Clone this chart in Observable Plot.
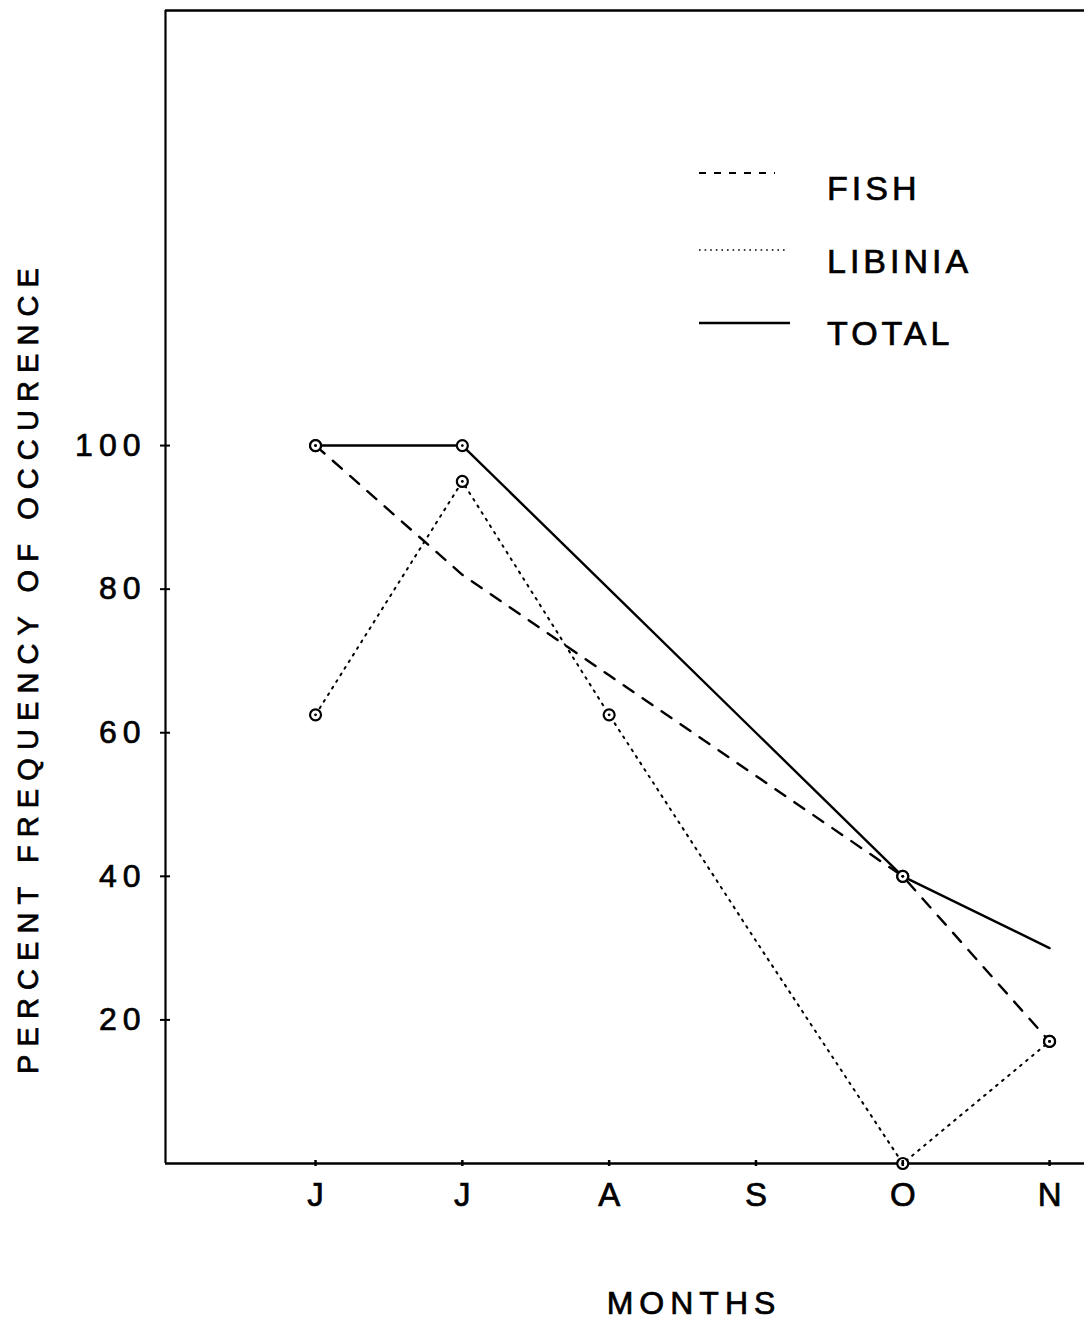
<!DOCTYPE html>
<html><head><meta charset="utf-8">
<script src="https://cdn.jsdelivr.net/npm/d3@7"></script>
<script src="https://cdn.jsdelivr.net/npm/@observablehq/plot@0.6"></script>
<style>
body{margin:0;background:#fff;}
#wrap{position:relative;width:1084px;height:1328px;font-family:"Liberation Sans",Arial,Helvetica,sans-serif;}
#wrap svg{font-family:"Liberation Sans",Arial,Helvetica,sans-serif;}
#wrap svg text{stroke:#000;stroke-width:0.7px;}
#legend{position:absolute;left:0;top:0;pointer-events:none;}
[aria-label="x-axis tick label"] text{letter-spacing:0;}
</style></head><body><div id="wrap"></div>
<script>
// ---- data ----
const months = ["J", "J", "A", "S", "O", "N"];
const fish = [100, 82, 68, 54, 40, 17];
const libinia = [62.5, 95, 62.5, 31, 0, 17];
const total = [100, 100, 80, 60, 40, 30];
const fishMarked = [true, false, false, false, true, true];
const libiniaMarked = [true, true, true, false, true, true];
const totalMarked = [true, true, false, false, true, false];
const yTicks = [20, 40, 60, 80, 100];
const yLabel = "PERCENT FREQUENCY OF OCCURENCE";
const xLabel = "MONTHS";
const legendItems = ["FISH", "LIBINIA", "TOTAL"];

// ---- build table ----
function rows(name, vals, marked) {
  return vals.map((v, i) => ({series: name, i, value: v, marked: marked[i]}));
}
const data = [
  ...rows("FISH", fish, fishMarked),
  ...rows("LIBINIA", libinia, libiniaMarked),
  ...rows("TOTAL", total, totalMarked)
];
const marked = data.filter(d => d.marked);
const xMin = -1.022, xMax = 5.238, yMax = 160.6;

const chart = Plot.plot({
  width: 1084,
  height: 1328,
  marginLeft: 165,
  marginRight: 0,
  marginTop: 10,
  marginBottom: 165,
  style: {fontFamily: '"Liberation Sans", Arial, Helvetica, sans-serif', color: "#000", background: "#fff", letterSpacing: "6px"},
  x: {type: "linear", domain: [xMin, xMax], label: null},
  y: {type: "linear", domain: [0, yMax], label: null},
  marks: [
    // frame lines
    Plot.ruleY([0], {stroke: "#000", strokeWidth: 2.5}),
    Plot.ruleY([yMax], {stroke: "#000", strokeWidth: 2.5}),
    Plot.ruleX([xMin], {stroke: "#000", strokeWidth: 2.2}),
    // series
    Plot.line(data.filter(d => d.series === "TOTAL"), {x: "i", y: "value", stroke: "#000", strokeWidth: 2.4}),
    Plot.line(data.filter(d => d.series === "FISH"), {x: "i", y: "value", stroke: "#000", strokeWidth: 2.4, strokeDasharray: "12,11"}),
    Plot.line(data.filter(d => d.series === "LIBINIA"), {x: "i", y: "value", stroke: "#000", strokeWidth: 2, strokeDasharray: "1.8,6"}),
    Plot.dot(marked, {x: "i", y: "value", r: 5.5, fill: "#fff", stroke: "#000", strokeWidth: 2.2}),
    Plot.dot(marked, {x: "i", y: "value", r: 1.4, fill: "#000", stroke: null}),
    // axes: tick marks crossing the axis
    Plot.axisY({ticks: yTicks, tickSize: 10, dx: 5, tickFormat: () => "", strokeWidth: 2, label: null}),
    Plot.axisY({ticks: yTicks, tickSize: 0, tickPadding: 19, fontSize: 32, label: null}),
    Plot.axisX({ticks: d3.range(months.length), tickSize: 6, dy: -3, tickFormat: () => "", strokeWidth: 2.5, label: null}),
    Plot.axisX({ticks: d3.range(months.length), tickSize: 0, tickPadding: 19, tickFormat: i => months[i], fontSize: 33, label: null}),
    // axis titles
    Plot.text([yLabel], {frameAnchor: "left", rotate: -90, dx: -137, dy: 80, fontSize: 29, textAnchor: "middle", lineAnchor: "middle"}),
    Plot.text([xLabel], {frameAnchor: "bottom", dx: 69, dy: 140, fontSize: 32, textAnchor: "middle", lineAnchor: "middle"})
  ]
});
// wider letter spacing for the y title
chart.querySelectorAll("text").forEach(t => {
  if (t.textContent === yLabel) t.style.letterSpacing = "8.1px";
});
const wrap = document.getElementById("wrap");
wrap.appendChild(chart);

// ---- legend overlay (inside plot area, top right) ----
const ns = "http://www.w3.org/2000/svg";
const leg = document.createElementNS(ns, "svg");
leg.setAttribute("id", "legend");
leg.setAttribute("width", 1084);
leg.setAttribute("height", 400);
const styles = [
  {dash: "7,8", w: 2.2, x2: 775},
  {dash: "1.6,4", w: 1.6, x2: 785},
  {dash: null, w: 2.6, x2: 790}
];
const lineYs = [173, 250, 323];
const textYs = [200, 273, 345];
legendItems.forEach((name, k) => {
  const l = document.createElementNS(ns, "line");
  l.setAttribute("x1", 699); l.setAttribute("x2", styles[k].x2);
  l.setAttribute("y1", lineYs[k]); l.setAttribute("y2", lineYs[k]);
  l.setAttribute("stroke", "#000"); l.setAttribute("stroke-width", styles[k].w);
  if (styles[k].dash) l.setAttribute("stroke-dasharray", styles[k].dash);
  leg.appendChild(l);
  const t = document.createElementNS(ns, "text");
  t.setAttribute("x", 827); t.setAttribute("y", textYs[k]);
  t.setAttribute("font-size", 34);
  t.setAttribute("font-family", '"Liberation Sans", Arial, Helvetica, sans-serif');
  t.setAttribute("letter-spacing", "4px");
  t.setAttribute("fill", "#000");
  t.setAttribute("stroke", "#000");
  t.setAttribute("stroke-width", "0.7");
  t.textContent = name;
  leg.appendChild(t);
});
wrap.appendChild(leg);
</script>
</body></html>
